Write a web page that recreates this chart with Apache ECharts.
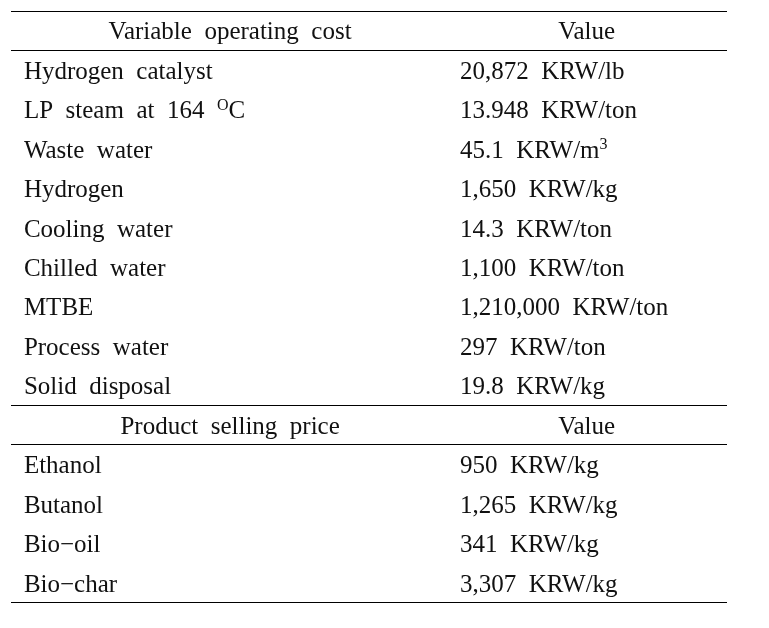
<!DOCTYPE html>
<html>
<head>
<meta charset="utf-8">
<script src="https://cdn.jsdelivr.net/npm/echarts@6/dist/echarts.min.js"></script>
<style>
  html, body { margin: 0; padding: 0; background: #fff; }
  #chart { width: 769px; height: 628px; }
</style>
</head>
<body>
<div id="chart"></div>
<script>
// ---- data ----
const costHeader = ['Variable operating cost', 'Value'];
const costItems = ['Hydrogen catalyst', 'LP steam at 164 °C', 'Waste water', 'Hydrogen',
  'Cooling water', 'Chilled water', 'MTBE', 'Process water', 'Solid disposal'];
const costValues = [20872, 13.948, 45.1, 1650, 14.3, 1100, 1210000, 297, 19.8];
const costUnits = ['KRW/lb', 'KRW/ton', 'KRW/m³', 'KRW/kg', 'KRW/ton', 'KRW/ton',
  'KRW/ton', 'KRW/ton', 'KRW/kg'];

const productHeader = ['Product selling price', 'Value'];
const productItems = ['Ethanol', 'Butanol', 'Bio−oil', 'Bio−char'];
const productValues = [950, 1265, 341, 3307];
const productUnits = ['KRW/kg', 'KRW/kg', 'KRW/kg', 'KRW/kg'];

// ---- build rows ----
const rows = [];
rows.push({ kind: 'header', a: costHeader[0], b: costHeader[1] });
costItems.forEach((n, i) => rows.push({ kind: 'item', a: n, b: fmt(costValues[i]) + ' ' + costUnits[i] }));
rows.push({ kind: 'header', a: productHeader[0], b: productHeader[1] });
productItems.forEach((n, i) => rows.push({ kind: 'item', a: n, b: fmt(productValues[i]) + ' ' + productUnits[i] }));

function fmt(v) { return v.toLocaleString('en-US', { maximumFractionDigits: 3 }); }
function markup(s) {
  return s.replace(/ /g, '  ').replace('°', '{sup|O}').replace('³', '{sup|3}');
}

// layout (x in percent of table width)
const COL1_CENTER = 30.6, COL2_CENTER = 80.4, LABEL_X = 1.8, VALUE_X = 62.7;
const FONT_FAMILY = '"Liberation Serif", "Times New Roman", serif';
const FONT_SIZE = 25;
const TEXT_DY = 2;
const TEXT_COLOR = '#111';

const chart = echarts.init(document.getElementById('chart'));

function textEl(x, y, str, align) {
  return {
    type: 'text',
    style: {
      x: x, y: y + TEXT_DY,
      text: markup(str),
      fill: TEXT_COLOR,
      fontFamily: FONT_FAMILY,
      fontSize: FONT_SIZE,
      align: align,
      verticalAlign: 'middle',
      rich: {
        sup: { fontSize: 16, fontFamily: FONT_FAMILY, fill: TEXT_COLOR, verticalAlign: 'top', lineHeight: 28 }
      }
    }
  };
}

function lineEl(x1, x2, y) {
  const yy = Math.floor(y) + 0.5;
  return {
    type: 'line',
    shape: { x1: x1, y1: yy, x2: x2, y2: yy },
    style: { stroke: '#000', lineWidth: 1 }
  };
}

function renderItem(params, api) {
  const r = rows[params.dataIndex];
  const idx = api.value(1);
  const bandH = api.size([0, 1])[1];
  const center = api.coord([0, idx]);
  const cy = center[1];
  const xLeft = api.coord([0, idx])[0];
  const xRight = api.coord([100, idx])[0];
  const children = [];
  if (r.kind === 'header') {
    children.push(textEl(api.coord([COL1_CENTER, idx])[0], cy, r.a, 'center'));
    children.push(textEl(api.coord([COL2_CENTER, idx])[0], cy, r.b, 'center'));
    children.push(lineEl(xLeft, xRight, cy - bandH / 2));
    children.push(lineEl(xLeft, xRight, cy + bandH / 2));
  } else {
    children.push(textEl(api.coord([LABEL_X, idx])[0], cy, r.a, 'left'));
    children.push(textEl(api.coord([VALUE_X, idx])[0], cy, r.b, 'left'));
  }
  if (params.dataIndex === rows.length - 1) {
    children.push(lineEl(xLeft, xRight, cy + bandH / 2));
  }
  return { type: 'group', children: children };
}

chart.setOption({
  animation: false,
  grid: { left: 11, right: 42, top: 11, bottom: 25.3 },
  xAxis: { type: 'value', min: 0, max: 100, show: false },
  yAxis: { type: 'category', inverse: true, show: false, data: rows.map((r, i) => String(i)) },
  series: [{
    type: 'custom',
    clip: false,
    renderItem: renderItem,
    data: rows.map((r, i) => [0, i])
  }]
});
</script>
</body>
</html>
